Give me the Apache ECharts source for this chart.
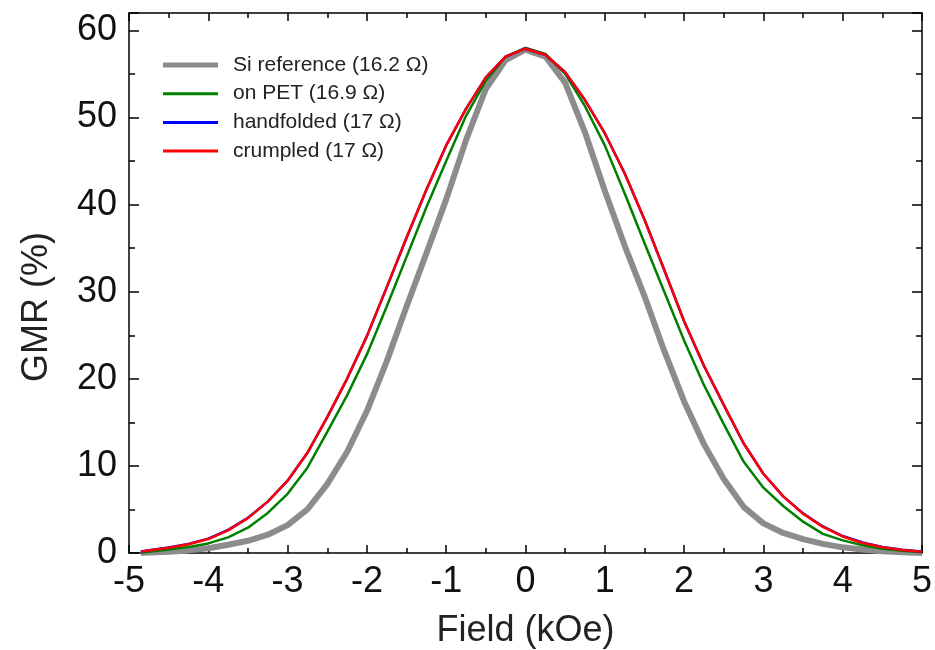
<!DOCTYPE html>
<html>
<head>
<meta charset="utf-8">
<script src="https://cdn.jsdelivr.net/npm/echarts@6/dist/echarts.min.js"></script>
<style>html,body{margin:0;padding:0;background:#fff;}#c{width:935px;height:650px;}</style>
</head>
<body>
<div id="c"></div>
<script>
// Field values (kOe)
const field = [-4.85,-4.75,-4.5,-4.25,-4,-3.75,-3.5,-3.25,-3,-2.75,-2.5,-2.25,-2,-1.75,-1.5,-1.25,-1,-0.75,-0.5,-0.25,0,
  0.25,0.5,0.75,1,1.25,1.5,1.75,2,2.25,2.5,2.75,3,3.25,3.5,3.75,4,4.25,4.5,4.75,5];
// GMR (%) per sample
const siRef = [0.0,0.05,0.15,0.3,0.55,0.95,1.4,2.1,3.2,5.0,7.9,11.6,16.3,22.0,28.3,34.4,40.6,47.4,53.3,56.6,57.8,
  57.0,54.0,48.3,41.6,35.3,29.5,23.2,17.4,12.5,8.5,5.3,3.4,2.3,1.6,1.05,0.65,0.4,0.2,0.08,0.0];
const onPET = [0.05,0.15,0.4,0.7,1.1,1.8,2.9,4.6,6.8,9.8,13.9,18.1,22.8,28.3,34.0,39.7,45.0,50.2,54.2,57.0,58.0,
  57.3,55.0,51.3,46.8,41.3,35.6,30.0,24.4,19.3,14.8,10.5,7.5,5.4,3.6,2.2,1.45,0.9,0.5,0.25,0.08];
const handfolded = [0.15,0.32,0.62,1.05,1.65,2.65,4.05,5.9,8.3,11.5,15.6,20.0,24.9,30.5,36.2,41.7,46.8,51.0,54.6,57.0,57.9,
  57.2,55.2,52.0,48.2,43.6,38.3,32.5,26.6,21.5,17.0,12.6,9.1,6.5,4.55,3.05,1.95,1.2,0.7,0.38,0.15];
const crumpled = [0.15,0.3,0.6,1.0,1.6,2.6,4.0,5.9,8.3,11.5,15.6,20.0,24.9,30.5,36.2,41.7,46.8,51.0,54.6,57.0,57.9,
  57.2,55.2,52.0,48.2,43.6,38.3,32.5,26.6,21.5,17.0,12.6,9.1,6.5,4.5,3.0,1.9,1.15,0.65,0.35,0.15];
const seriesNames = ['Si reference (16.2 \u03A9)','on PET (16.9 \u03A9)','handfolded (17 \u03A9)','crumpled (17 \u03A9)'];
const seriesColors = ['#8c8c8c','#008000','#0000ff','#ff0000'];
const xTicks = [-5,-4,-3,-2,-1,0,1,2,3,4,5];
const yTicks = [0,10,20,30,40,50,60];

const FONT = '"Liberation Sans", Arial, Helvetica, sans-serif';
const pairs = ys => field.map((x,i)=>[x, ys[i]]);
const chart = echarts.init(document.getElementById('c'), null, {renderer:'canvas'});
const axisLine = {show:true, onZero:false, lineStyle:{color:'#000', width:1.5}};
const xBase = {type:'value', min:xTicks[0], max:xTicks[xTicks.length-1], interval:1,
  axisLine, splitLine:{show:false},
  axisTick:{show:true, inside:true, length:8, lineStyle:{color:'#000', width:1.5}},
  minorTick:{show:true, splitNumber:2, length:5, lineStyle:{color:'#000', width:1.5}}};
const yMajor = {type:'value', min:0, max:62, interval:10, axisLine, splitLine:{show:false},
  axisTick:{show:true, inside:true, length:10, lineStyle:{color:'#000', width:1.5}}};
const yMinor = {type:'value', min:0, max:62, interval:5, axisLine:{show:false, onZero:false}, splitLine:{show:false},
  axisLabel:{show:false}, axisTick:{show:true, inside:true, length:6, lineStyle:{color:'#000', width:1.5}}};

chart.setOption({
  animation:false,
  backgroundColor:'#fff',
  grid:{left:129, right:13, top:13, bottom:97, containLabel:false, outerBoundsMode:'none'},
  legend:{
    orient:'vertical', left:158, top:49, itemWidth:55, itemHeight:14, itemGap:6.7,
    data:seriesNames.map((n,i)=>({name:n,
      icon: i===0 ? 'path://M0,0L55,0L55,5L0,5Z' : 'path://M0,0L55,0L55,3L0,3Z'})),
    textStyle:{fontFamily:FONT, fontSize:21, color:'#222', lineHeight:22, padding:[0,0,0,10]},
  },
  graphic:[{type:'text', x:37, y:307, rotation:Math.PI/2,
    style:{text:'GMR (%)', fontFamily:FONT, fontSize:36, fill:'#222', align:'center', verticalAlign:'middle'}}],
  xAxis:[
    Object.assign({}, xBase, {position:'bottom',
      name:'Field (kOe)', nameLocation:'middle', nameGap:60,
      nameTextStyle:{fontFamily:FONT, fontSize:36, color:'#222'},
      axisLabel:{show:true, margin:11, fontFamily:FONT, fontSize:36, color:'#111',
        formatter:v=>xTicks.includes(v)? String(v):''}}),
    Object.assign({}, xBase, {position:'top', axisLabel:{show:false}})
  ],
  yAxis:[
    Object.assign({}, yMajor, {position:'left',
      axisLabel:{show:true, margin:12, fontFamily:FONT, fontSize:36, color:'#111',
        formatter:v=>yTicks.includes(v)? String(v):''}}),
    Object.assign({}, yMinor, {position:'left'}),
    Object.assign({}, yMajor, {position:'right', axisLabel:{show:false}}),
    Object.assign({}, yMinor, {position:'right'})
  ],
  series:[
    {name:seriesNames[0], type:'line', data:pairs(siRef), symbol:'none', z:2,
      lineStyle:{color:seriesColors[0], width:6}, itemStyle:{color:seriesColors[0]}},
    {name:seriesNames[1], type:'line', data:pairs(onPET), symbol:'none', z:3,
      lineStyle:{color:seriesColors[1], width:2.5}, itemStyle:{color:seriesColors[1]}},
    {name:seriesNames[2], type:'line', data:pairs(handfolded), symbol:'none', z:4,
      lineStyle:{color:seriesColors[2], width:2.5}, itemStyle:{color:seriesColors[2]}},
    {name:seriesNames[3], type:'line', data:pairs(crumpled), symbol:'none', z:5,
      lineStyle:{color:seriesColors[3], width:2.5}, itemStyle:{color:seriesColors[3]}}
  ]
});
</script>
</body>
</html>
